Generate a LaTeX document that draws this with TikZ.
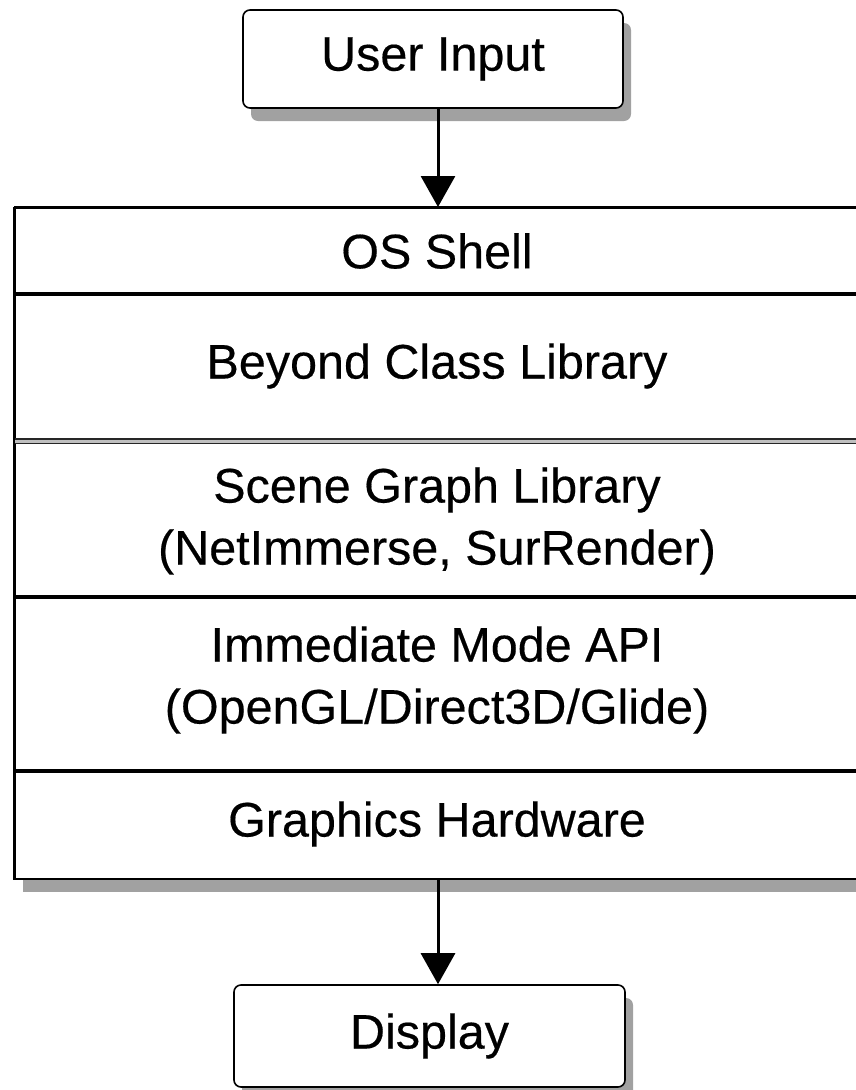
\documentclass[tikz,border=0pt]{standalone}
\usepackage{fontspec}
\setmainfont{Liberation Sans}
\newfontfamily\diagfont{Liberation Sans}[FakeBold=0.35]
\usetikzlibrary{arrows.meta,shadows}
\tikzset{
  x=1pt, y=-1pt,
  lbl/.style={font=\diagfont\fontsize{48.5}{62}\selectfont, align=center, inner sep=0pt},
  shad/.style={drop shadow={shadow xshift=8pt, shadow yshift=-13pt, fill=black!37, opacity=1}},
  termbox/.style={draw, line width=1.6pt, rounded corners=7pt, fill=white, shad,
    font=\diagfont\fontsize{48.5}{62}\selectfont, inner sep=0pt},
  stackbox/.style={draw, line width=1.6pt, fill=white, shad, inner sep=0pt, anchor=north west},
  thickdiv/.style={line width=3.4pt},
  thindiv/.style={line width=1.4pt},
  arr/.style={line width=3pt, -{Triangle[width=34pt,length=31pt]}}
}
\begin{document}
\begin{tikzpicture}
\useasboundingbox (0,0) rectangle (856,1090);
% stack
\node[stackbox, minimum width=880pt, minimum height=671pt] (stack) at (14,207) {};
\draw[thickdiv] (stack.west |- 0,294) -- (stack.east |- 0,294);
\draw[line width=2.6pt, black!25] (stack.west |- 0,441.2) -- (stack.east |- 0,441.2);
\draw[thindiv, black!85] (stack.west |- 0,439) -- (stack.east |- 0,439);
\draw[thindiv, black!85] (stack.west |- 0,443.5) -- (stack.east |- 0,443.5);
\draw[thickdiv] (stack.west |- 0,597) -- (stack.east |- 0,597);
\draw[thickdiv] (stack.west |- 0,771) -- (stack.east |- 0,771);
\draw[line width=1.6pt] (stack.north west) -- (stack.south west) -- (stack.south east);
\draw[line width=1.6pt] (stack.north west) -- (stack.north east);
% layer labels
\node[lbl] (os) at (437,251) {OS Shell};
\node[lbl] (bcl) at (437,366) {Beyond Class Library};
\node[lbl] (sg) at (437,521) {Scene Graph Library\\(NetImmerse, SurRender)};
\node[lbl] (im) at (437,680) {Immediate Mode API\\(OpenGL/Direct3D/Glide)};
\node[lbl] (gh) at (437,824) {Graphics Hardware};
% terminals
\node[termbox, minimum width=380pt, minimum height=98pt] (ui) at (433,59) {User Input};
\node[termbox, minimum width=391pt, minimum height=102pt] (disp) at (429.5,1036) {Display};
% connectors
\coordinate (ax) at (438,0);
\draw[arr] (ui.south -| ax) -- (stack.north -| ax);
\draw[arr] (stack.south -| ax) -- (disp.north -| ax);
\end{tikzpicture}
\end{document}
